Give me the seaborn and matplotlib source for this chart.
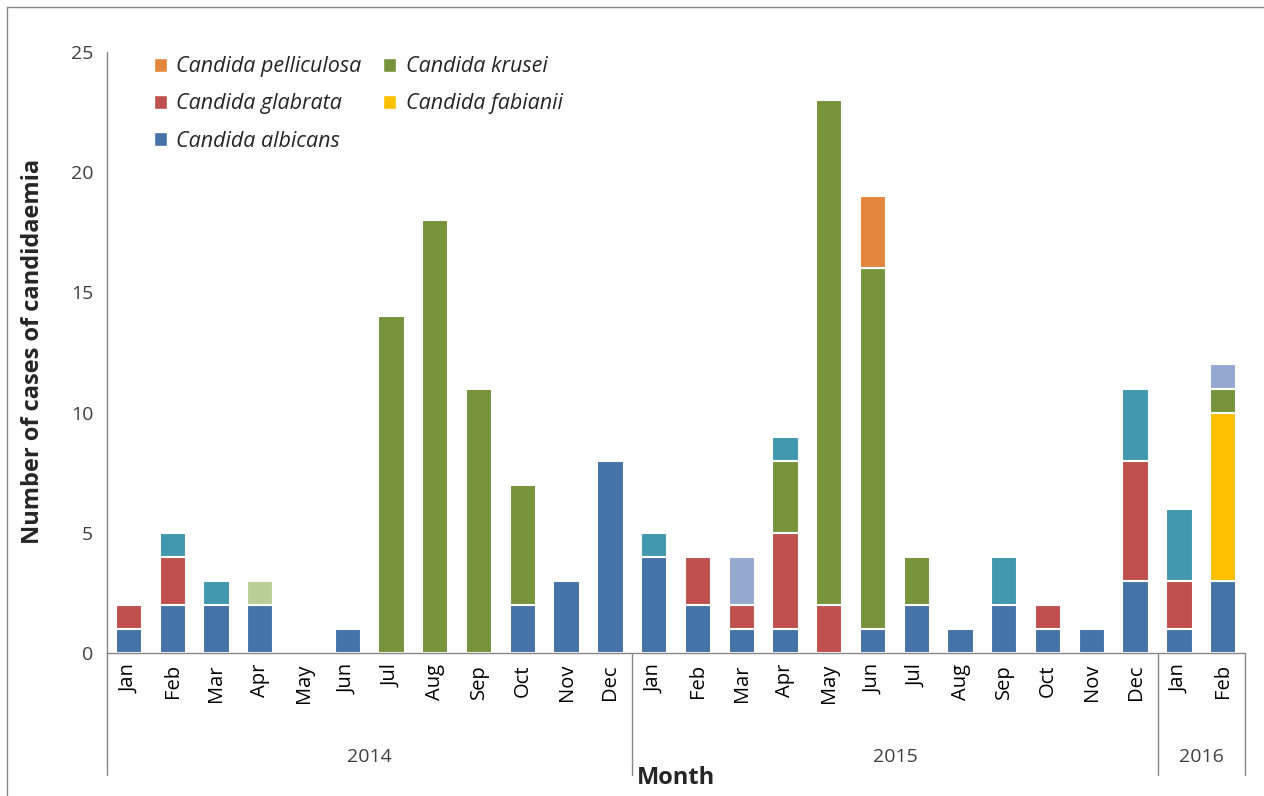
import numpy as np
import pandas as pd
import matplotlib
matplotlib.use("Agg")
import matplotlib.pyplot as plt
import seaborn as sns
from matplotlib.patches import Patch
from matplotlib.lines import Line2D

months = ["Jan", "Feb", "Mar", "Apr", "May", "Jun", "Jul", "Aug", "Sep", "Oct", "Nov", "Dec",
          "Jan", "Feb", "Mar", "Apr", "May", "Jun", "Jul", "Aug", "Sep", "Oct", "Nov", "Dec",
          "Jan", "Feb"]
years = ["2014"] * 12 + ["2015"] * 12 + ["2016"] * 2

# stacked from bottom to top
albicans    = [1, 2, 2, 2, 0, 1, 0, 0, 0, 2, 3, 8, 4, 2, 1, 1, 0, 1, 2, 1, 2, 1, 1, 3, 1, 3]
glabrata    = [1, 2, 0, 0, 0, 0, 0, 0, 0, 0, 0, 0, 0, 2, 1, 4, 2, 0, 0, 0, 0, 1, 0, 5, 2, 0]
fabianii    = [0, 0, 0, 0, 0, 0, 0, 0, 0, 0, 0, 0, 0, 0, 0, 0, 0, 0, 0, 0, 0, 0, 0, 0, 0, 7]
krusei      = [0, 0, 0, 0, 0, 0, 14, 18, 11, 5, 0, 0, 0, 0, 0, 3, 21, 15, 2, 0, 0, 0, 0, 0, 0, 1]
pelliculosa = [0, 0, 0, 0, 0, 0, 0, 0, 0, 0, 0, 0, 0, 0, 0, 0, 0, 3, 0, 0, 0, 0, 0, 0, 0, 0]
other_teal  = [0, 1, 1, 0, 0, 0, 0, 0, 0, 0, 0, 0, 1, 0, 0, 1, 0, 0, 0, 0, 2, 0, 0, 3, 3, 0]
other_blue  = [0, 0, 0, 0, 0, 0, 0, 0, 0, 0, 0, 0, 0, 0, 2, 0, 0, 0, 0, 0, 0, 0, 0, 0, 0, 1]
other_green = [0, 0, 0, 1, 0, 0, 0, 0, 0, 0, 0, 0, 0, 0, 0, 0, 0, 0, 0, 0, 0, 0, 0, 0, 0, 0]

series = [
    ("Candida albicans", albicans, "#4572A7"),
    ("Candida glabrata", glabrata, "#C0504D"),
    ("Candida fabianii", fabianii, "#FFC000"),
    ("Candida krusei", krusei, "#77933C"),
    ("Candida pelliculosa", pelliculosa, "#E2873D"),
    ("other1", other_teal, "#4198AF"),
    ("other2", other_blue, "#95A9D0"),
    ("other3", other_green, "#B7CF96"),
]

keys = [f"{y}-{m}" for y, m in zip(years, months)]

sns.set_style("white")
plt.rcParams["font.family"] = ["Open Sans", "DejaVu Sans"]

fig = plt.figure(figsize=(12.64, 7.96), dpi=100)
ax = fig.add_axes([0.0847, 0.1797, 0.9003, 0.755])

bottom = np.zeros(len(keys))
for name, vals, color in series:
    vals = np.array(vals, dtype=float)
    mask = vals > 0
    if mask.any():
        df = pd.DataFrame({"key": np.array(keys)[mask], "n": vals[mask]})
        sns.barplot(data=df, x="key", y="n", order=keys, color=color,
                    width=0.6, bottom=bottom[mask], edgecolor="white",
                    linewidth=1.5, saturation=1, ax=ax, errorbar=None)
    bottom += vals

ax.set_xlim(-0.5, len(keys) - 0.5)
ax.set_ylim(0, 25)
ax.set_yticks([0, 5, 10, 15, 20, 25])
ax.tick_params(axis="y", labelsize=14, length=0, pad=10, colors="#404040")
ax.set_xticks(range(len(keys)))
ax.set_xticklabels(months, rotation=90, fontsize=14.5)
ax.tick_params(axis="x", length=0, pad=8, colors="black")
ax.set_xlabel("")
ax.set_ylabel("")
for s in ["top", "right"]:
    ax.spines[s].set_visible(False)
for s in ["left", "bottom"]:
    ax.spines[s].set_color("#868686")
    ax.spines[s].set_linewidth(1)

# year group separators and labels
trans = ax.get_xaxis_transform()
for xs in [-0.5, 11.5, 23.5, 25.5]:
    ax.add_line(Line2D([xs, xs], [0, -0.203], transform=trans, color="#868686",
                       linewidth=1, clip_on=False))
for label, lo, hi in [("2014", -0.5, 11.5), ("2015", 11.5, 23.5), ("2016", 23.5, 25.5)]:
    ax.text((lo + hi) / 2, -0.173, label, transform=trans, ha="center", va="center",
            fontsize=14, color="#404040")
ax.text(0.5, -0.208, "Month", transform=ax.transAxes, ha="center", va="center",
        fontsize=17, fontweight="bold")
fig.text(0.026, 0.558, "Number of cases of candidaemia", rotation=90, ha="center",
         va="center", fontsize=17, fontweight="bold")

# legend (only the named species)
colors = {name: c for name, _, c in series}
order = ["Candida pelliculosa", "Candida glabrata", "Candida albicans",
         "Candida krusei", "Candida fabianii"]
handles = [Patch(facecolor=colors[n], edgecolor="white", label=n) for n in order]
leg = ax.legend(handles=handles, ncol=2, loc="upper left", bbox_to_anchor=(0.024, 1.025),
                frameon=False, prop={"style": "italic", "size": 15.5},
                handlelength=0.6, handleheight=0.6, handletextpad=0.45,
                columnspacing=1.0, labelspacing=0.75)

# figure border
fig.add_artist(Line2D([0.0055, 0.0055], [0, 0.991], transform=fig.transFigure,
                      color="#868686", linewidth=1))
fig.add_artist(Line2D([0.0055, 1], [0.991, 0.991], transform=fig.transFigure,
                      color="#868686", linewidth=1))

fig.savefig("out.png", dpi=100)
